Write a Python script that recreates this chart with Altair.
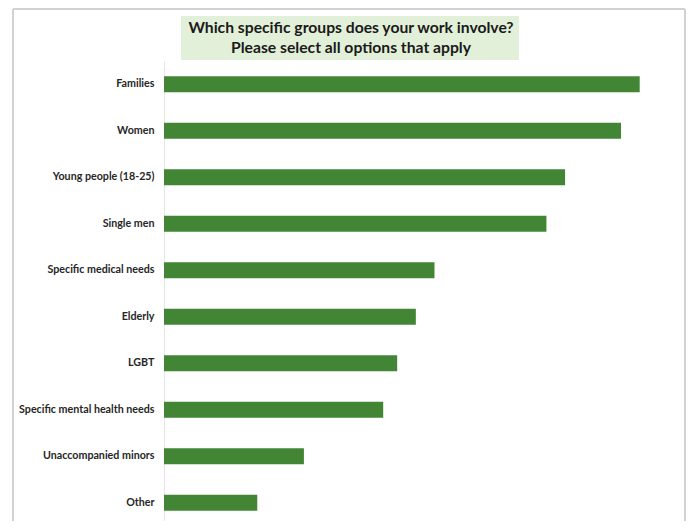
import altair as alt
import pandas as pd

categories = [
    "Families",
    "Women",
    "Young people (18-25)",
    "Single men",
    "Specific medical needs",
    "Elderly",
    "LGBT",
    "Specific mental health needs",
    "Unaccompanied minors",
    "Other",
]
values = [51, 49, 43, 41, 29, 27, 25, 23.5, 15, 10]

title_lines = ["Which specific groups does your work involve?",
               "Please select all options that apply"]

df = pd.DataFrame({"group": categories, "value": values})
tdf = pd.DataFrame({"line": title_lines, "row": [0, 1]})
one = pd.DataFrame({"a": [0]})

W, H = 513, 460

bars = alt.Chart(df).mark_bar(height=16, color="#418535").encode(
    x=alt.X("value:Q", axis=None, scale=alt.Scale(domain=[0, 55])),
    y=alt.Y(
        "group:N",
        sort=categories,
        scale=alt.Scale(paddingInner=0, paddingOuter=0, range=[0, 465]),
        axis=alt.Axis(
            title=None,
            labelFont="Lato",
            labelFontWeight="bold",
            labelFontSize=10.7,
            labelColor="#262626",
            labelPadding=10,
            ticks=False,
            domainColor="#e6e6e6",
            labelLimit=300,
        ),
    ),
)

title_bg = alt.Chart(one).mark_rect(color="#e2f0d9").encode(
    x=alt.value(17), x2=alt.value(355), y=alt.value(-45), y2=alt.value(-1)
)

title_l1 = alt.Chart(tdf).transform_filter("datum.row == 0").mark_text(
    font="Lato", fontSize=15.7, fontWeight="bold", color="#1a1a1a",
    align="center", baseline="middle",
).encode(text="line:N", x=alt.value(187), y=alt.value(-33))

title_l2 = alt.Chart(tdf).transform_filter("datum.row == 1").mark_text(
    font="Lato", fontSize=15.7, fontWeight="bold", color="#1a1a1a",
    align="center", baseline="middle",
).encode(text="line:N", x=alt.value(187), y=alt.value(-13))

border_color = "#d2d2d2"
left_b = alt.Chart(one).mark_rule(color=border_color, strokeWidth=2).encode(
    x=alt.value(-151), y=alt.value(-52), y2=alt.value(470)
)
right_b = alt.Chart(one).mark_rule(color=border_color, strokeWidth=2).encode(
    x=alt.value(521), y=alt.value(-52), y2=alt.value(470)
)
top_b = alt.Chart(one).mark_rule(color=border_color, strokeWidth=2).encode(
    x=alt.value(-151), x2=alt.value(521), y=alt.value(-52)
)

chart = alt.layer(title_bg, title_l1, title_l2, left_b, right_b, top_b, bars).properties(
    width=W,
    height=H,
    background="white",
    autosize=alt.AutoSizeParams(type="none"),
    padding={"left": 156, "top": 53, "right": 9, "bottom": 0},
).configure_view(strokeWidth=0, stroke="transparent")

chart.save("out.html", embed_options={"renderer": "svg", "actions": False})
